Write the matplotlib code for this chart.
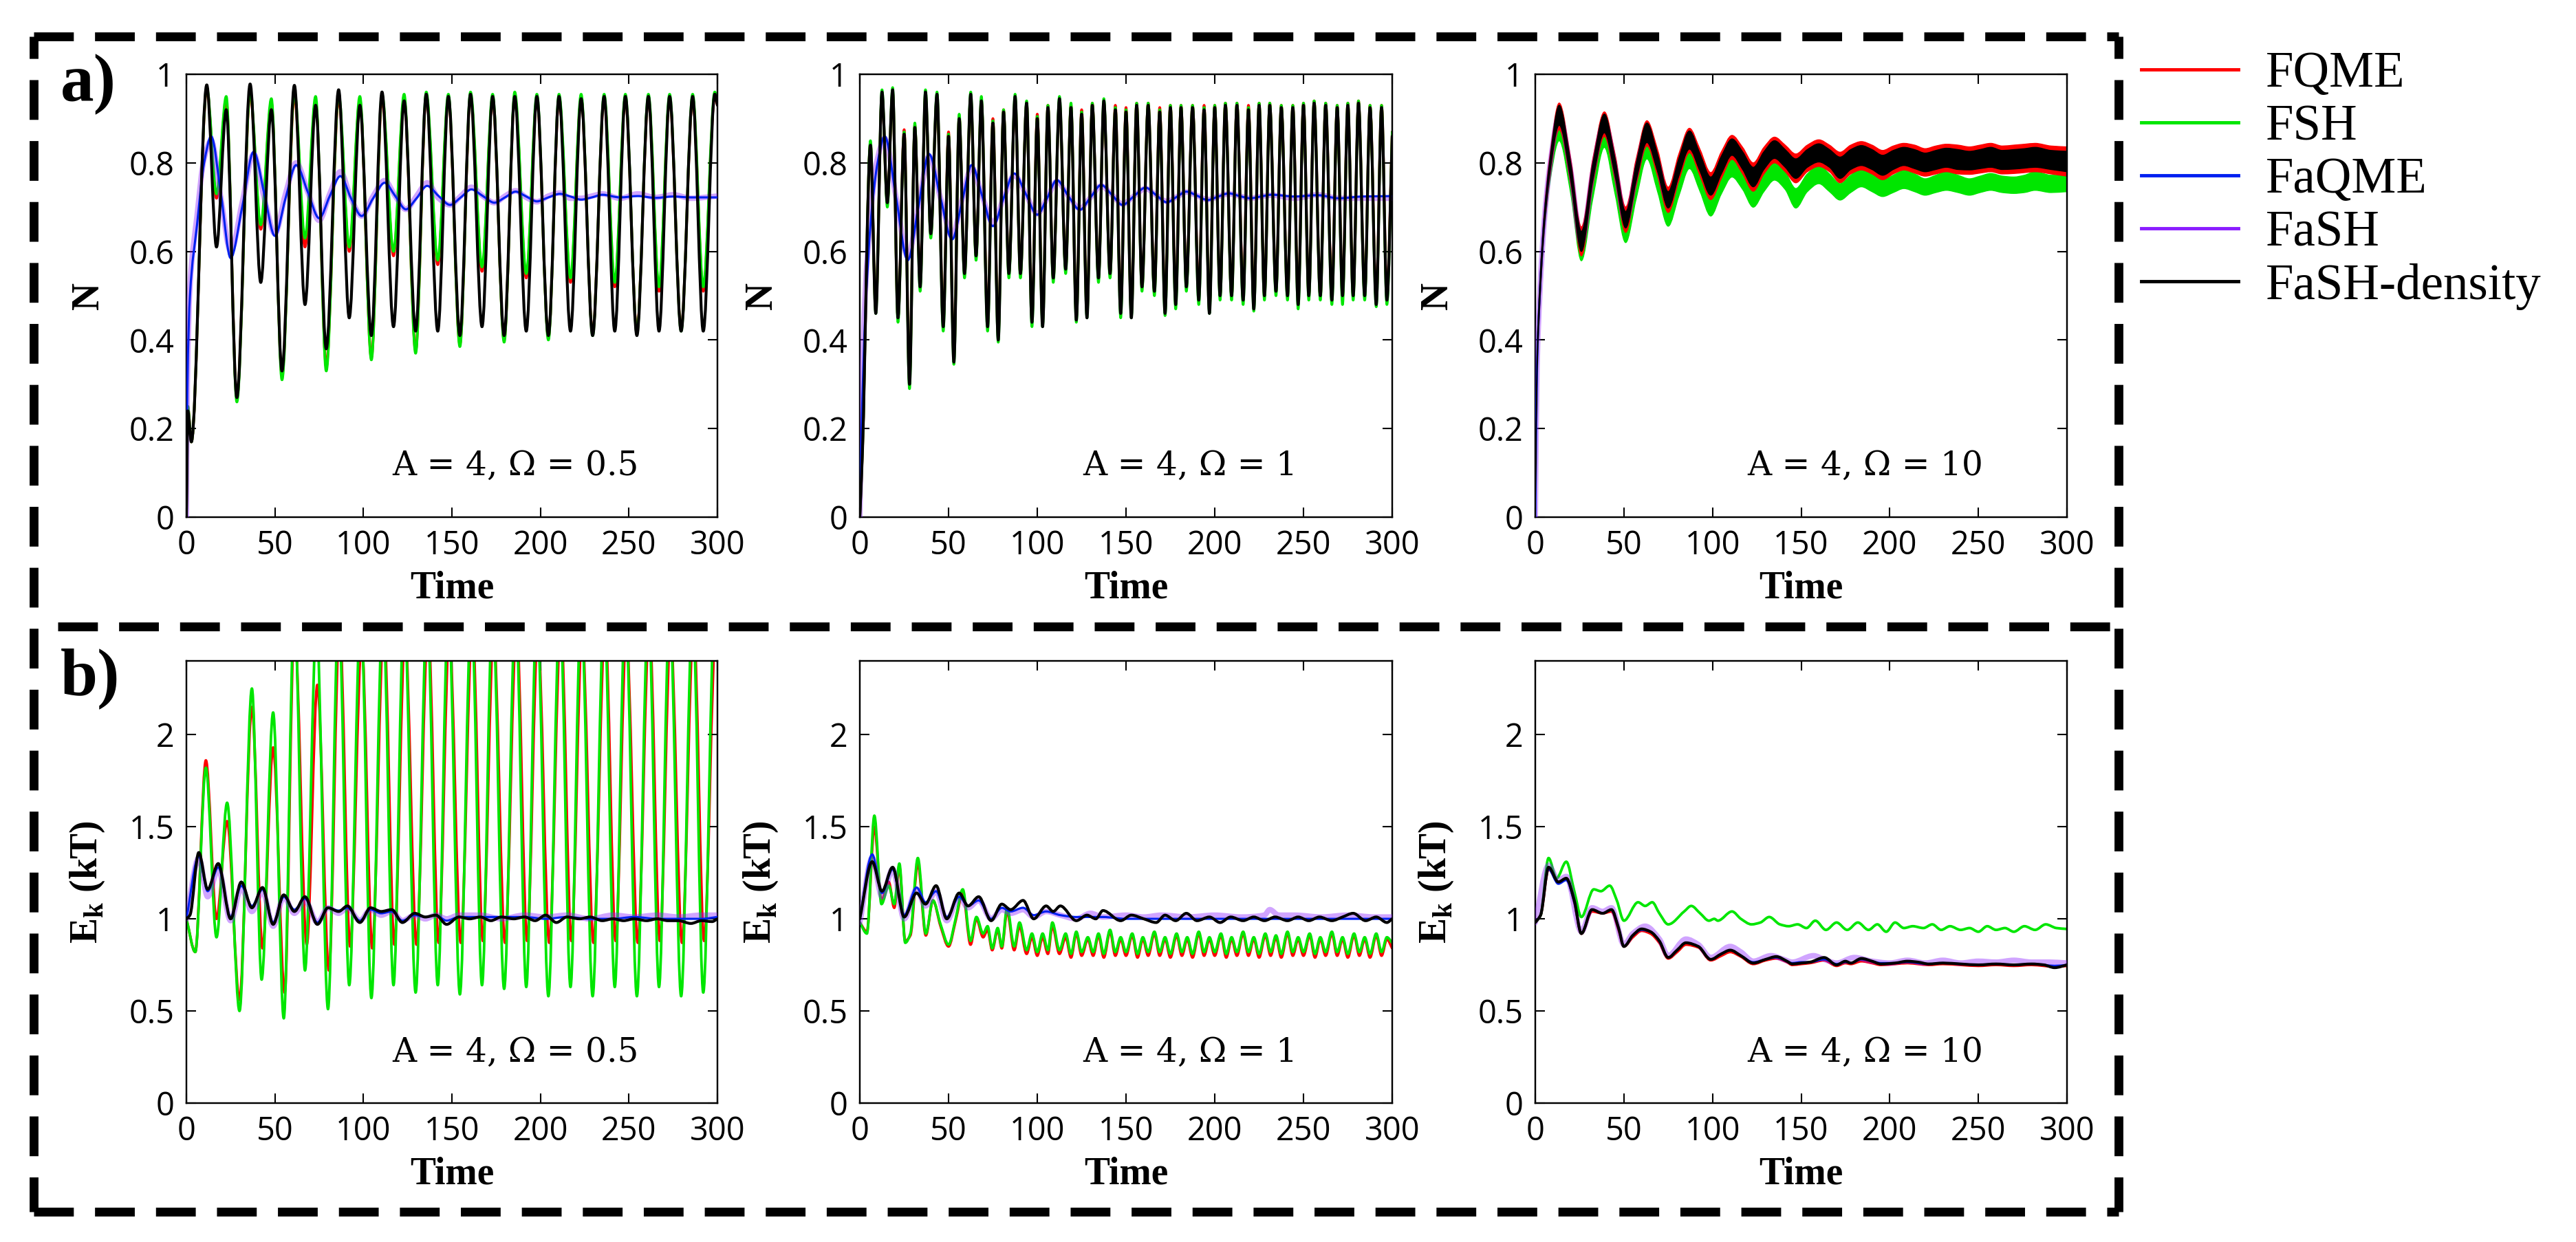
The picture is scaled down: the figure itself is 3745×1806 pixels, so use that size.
import matplotlib
matplotlib.use("Agg")
import matplotlib.pyplot as plt
from matplotlib.lines import Line2D
from matplotlib.path import Path
from matplotlib.patches import PathPatch
from matplotlib.ticker import FormatStrFormatter

plt.rcParams["font.family"] = ["Open Sans", "DejaVu Sans"]
plt.rcParams["mathtext.fontset"] = "custom"
plt.rcParams["mathtext.rm"] = "Liberation Serif:bold"
plt.rcParams["mathtext.bf"] = "Liberation Serif:bold"

# ---------------- data ----------------
# a) population N, A = 4, Omega = 0.5
a1_t_fast = [0, 0.8, 2.8, 11.5, 17, 22.5, 28.5, 36, 42, 48, 54, 61, 67, 73, 79, 86, 92, 98, 104.5,
             110.5, 117, 123, 129.5, 135.5, 142, 148, 154.5, 160.5, 167, 173, 179.5, 185.5, 192, 198,
             204.5, 210.5, 217, 223, 229.5, 236, 242, 248, 254.5, 261, 267, 273, 279.5, 286, 292,
             298.5, 300]
a1_fash_density = [0.0, 0.24, 0.17, 0.976, 0.61, 0.92, 0.27, 0.978, 0.53, 0.92, 0.33, 0.975, 0.48,
                   0.93, 0.38, 0.965, 0.45, 0.93, 0.41, 0.96, 0.43, 0.94, 0.42, 0.955, 0.42, 0.95,
                   0.41, 0.955, 0.43, 0.95, 0.41, 0.95, 0.42, 0.95, 0.41, 0.95, 0.42, 0.945, 0.41,
                   0.95, 0.42, 0.95, 0.41, 0.95, 0.42, 0.95, 0.42, 0.95, 0.42, 0.955, 0.93]
a1_fsh = [0.0, 0.25, 0.17, 0.97, 0.73, 0.95, 0.26, 0.96, 0.66, 0.945, 0.31, 0.96, 0.63, 0.95, 0.33,
          0.955, 0.61, 0.95, 0.355, 0.955, 0.60, 0.955, 0.37, 0.96, 0.58, 0.955, 0.385, 0.96, 0.565,
          0.955, 0.395, 0.96, 0.55, 0.955, 0.40, 0.955, 0.54, 0.955, 0.41, 0.955, 0.53, 0.955, 0.415,
          0.955, 0.52, 0.955, 0.42, 0.955, 0.52, 0.96, 0.94]
a1_fqme = [0.0, 0.25, 0.17, 0.965, 0.72, 0.94, 0.27, 0.955, 0.65, 0.935, 0.32, 0.95, 0.61, 0.94, 0.34,
           0.945, 0.60, 0.94, 0.36, 0.945, 0.59, 0.945, 0.375, 0.95, 0.57, 0.945, 0.39, 0.95, 0.555,
           0.945, 0.40, 0.95, 0.54, 0.945, 0.405, 0.945, 0.53, 0.945, 0.415, 0.945, 0.52, 0.945, 0.42,
           0.945, 0.51, 0.945, 0.425, 0.945, 0.51, 0.95, 0.93]
a1_t_slow = [0, 0.5, 2, 6, 10, 14, 19.5, 25, 31.5, 38, 44, 50, 56, 62, 68.5, 75, 81, 87, 93, 99, 105.5,
             112, 118, 124, 130, 136, 142.5, 149, 155, 161, 167.5, 174, 180, 186, 192, 198, 204.5, 211,
             217, 223, 229, 235, 245, 255, 265, 275, 285, 300]
a1_faqme = [0.0, 0.28, 0.5, 0.66, 0.8, 0.86, 0.73, 0.585, 0.7, 0.825, 0.73, 0.635, 0.72, 0.795, 0.735,
            0.675, 0.725, 0.77, 0.72, 0.68, 0.72, 0.755, 0.725, 0.695, 0.72, 0.748, 0.725, 0.705, 0.722,
            0.74, 0.725, 0.71, 0.722, 0.735, 0.724, 0.713, 0.722, 0.73, 0.724, 0.717, 0.722, 0.728,
            0.722, 0.725, 0.721, 0.724, 0.722, 0.722]
a1_fash = [0.0, 0.3, 0.52, 0.68, 0.81, 0.85, 0.72, 0.6, 0.71, 0.82, 0.72, 0.64, 0.73, 0.80, 0.735, 0.67,
           0.73, 0.78, 0.72, 0.68, 0.725, 0.76, 0.725, 0.695, 0.725, 0.755, 0.72, 0.705, 0.725, 0.745,
           0.725, 0.71, 0.725, 0.737, 0.722, 0.712, 0.725, 0.732, 0.72, 0.72, 0.725, 0.73, 0.72, 0.73,
           0.722, 0.728, 0.72, 0.725]

# a) population N, A = 4, Omega = 1
a2_t_fast = [0, 1.5, 6, 9, 12.5, 15.5, 18.5, 21.5, 25, 28,
             31, 34, 37, 40, 43.5, 47, 50, 53, 56, 59,
             62.5, 65.5, 68.5, 72, 75, 78, 81, 84, 87.5, 90.5,
             94, 97, 100, 103, 106, 109, 112.5, 116, 119, 122,
             125, 128, 131, 134.5, 137.5, 141, 144, 147, 150, 153,
             156, 159, 162.5, 166, 169, 172, 175, 178, 181, 184,
             187.5, 191, 194, 197, 200, 203, 206, 209.5, 212.5, 216,
             219, 222, 225, 228, 231, 234.5, 237.5, 241, 244, 247,
             250, 253, 256, 259.5, 262.5, 266, 269, 272, 275, 278,
             281, 284.5, 287.5, 291, 294, 297, 300]
a2_fash_density = [0.0, 0.15, 0.84, 0.46, 0.96, 0.71, 0.965, 0.45, 0.865, 0.30,
                   0.88, 0.52, 0.96, 0.64, 0.955, 0.43, 0.86, 0.35, 0.90, 0.55,
                   0.955, 0.59, 0.94, 0.43, 0.89, 0.40, 0.915, 0.55, 0.95, 0.55,
                   0.935, 0.44, 0.90, 0.43, 0.925, 0.54, 0.945, 0.56, 0.925, 0.445,
                   0.91, 0.45, 0.93, 0.54, 0.94, 0.55, 0.92, 0.46, 0.915, 0.45,
                   0.93, 0.52, 0.93, 0.51, 0.915, 0.46, 0.925, 0.48, 0.925, 0.52,
                   0.925, 0.49, 0.92, 0.46, 0.925, 0.50, 0.93, 0.50, 0.93, 0.49,
                   0.92, 0.47, 0.93, 0.50, 0.93, 0.51, 0.925, 0.50, 0.925, 0.48,
                   0.93, 0.50, 0.935, 0.50, 0.93, 0.49, 0.925, 0.50, 0.93, 0.50,
                   0.935, 0.50, 0.925, 0.48, 0.925, 0.49, 0.86]
a2_fsh = [0.0, 0.15, 0.85, 0.46, 0.965, 0.70, 0.97, 0.44, 0.87, 0.29,
          0.89, 0.51, 0.965, 0.63, 0.96, 0.42, 0.865, 0.345, 0.91, 0.54,
          0.96, 0.58, 0.95, 0.42, 0.895, 0.395, 0.92, 0.54, 0.955, 0.54,
          0.94, 0.43, 0.905, 0.43, 0.93, 0.53, 0.95, 0.55, 0.935, 0.44,
          0.915, 0.45, 0.935, 0.53, 0.945, 0.54, 0.925, 0.45, 0.92, 0.45,
          0.935, 0.51, 0.935, 0.50, 0.92, 0.455, 0.93, 0.47, 0.93, 0.51,
          0.93, 0.48, 0.925, 0.46, 0.93, 0.49, 0.935, 0.49, 0.935, 0.48,
          0.925, 0.465, 0.935, 0.49, 0.935, 0.50, 0.93, 0.49, 0.93, 0.47,
          0.935, 0.49, 0.94, 0.49, 0.935, 0.48, 0.93, 0.48, 0.935, 0.49,
          0.94, 0.49, 0.93, 0.475, 0.93, 0.48, 0.87]
a2_fqme = [0.0, 0.15, 0.845, 0.47, 0.955, 0.71, 0.96, 0.45, 0.875, 0.31,
           0.885, 0.53, 0.955, 0.64, 0.95, 0.44, 0.87, 0.36, 0.905, 0.55,
           0.95, 0.59, 0.94, 0.44, 0.90, 0.41, 0.92, 0.55, 0.945, 0.55,
           0.935, 0.45, 0.91, 0.44, 0.93, 0.54, 0.94, 0.56, 0.93, 0.45,
           0.92, 0.46, 0.935, 0.54, 0.935, 0.55, 0.93, 0.47, 0.925, 0.46,
           0.935, 0.52, 0.935, 0.51, 0.925, 0.47, 0.93, 0.49, 0.93, 0.52,
           0.93, 0.50, 0.93, 0.47, 0.93, 0.50, 0.935, 0.50, 0.935, 0.50,
           0.93, 0.48, 0.935, 0.50, 0.935, 0.51, 0.93, 0.50, 0.93, 0.49,
           0.935, 0.50, 0.94, 0.50, 0.935, 0.50, 0.93, 0.50, 0.935, 0.50,
           0.94, 0.50, 0.93, 0.49, 0.93, 0.50, 0.87]
a2_t_slow = [0, 1, 3, 6, 10, 14, 20.5, 27, 33, 39, 45.5, 52, 57.5, 63, 69, 75, 81, 87, 93.5, 100, 105.5,
             111, 117.5, 124, 130, 136, 142, 148, 154.5, 161, 167, 173, 178.5, 184, 190, 196, 202, 208,
             214, 220, 226, 232, 245, 258, 270, 283, 300]
a2_faqme = [0.0, 0.2, 0.45, 0.66, 0.8, 0.86, 0.72, 0.58, 0.7, 0.82, 0.72, 0.627, 0.71, 0.795, 0.725,
            0.657, 0.72, 0.776, 0.73, 0.683, 0.72, 0.761, 0.725, 0.694, 0.722, 0.75, 0.728, 0.705, 0.725,
            0.744, 0.727, 0.711, 0.723, 0.735, 0.726, 0.716, 0.724, 0.731, 0.725, 0.72, 0.724, 0.728,
            0.724, 0.727, 0.72, 0.724, 0.725]
a2_fash = [0.0, 0.25, 0.5, 0.68, 0.81, 0.855, 0.72, 0.59, 0.7, 0.815, 0.72, 0.635, 0.715, 0.79, 0.725,
           0.665, 0.72, 0.772, 0.73, 0.685, 0.72, 0.758, 0.725, 0.697, 0.722, 0.748, 0.728, 0.707, 0.725,
           0.742, 0.727, 0.713, 0.723, 0.734, 0.726, 0.717, 0.724, 0.73, 0.725, 0.72, 0.724, 0.727,
           0.72, 0.728, 0.72, 0.72, 0.72]

# a) population N, A = 4, Omega = 10 (fast driving -> thick bands: upper / lower edges)
a3_t = [0, 1, 2.5, 5, 8, 13.5, 20, 26, 32.5, 39, 45, 51, 57, 63, 69, 75, 81, 87, 93, 99, 105, 111, 117,
        123, 129, 135, 141, 147, 153.5, 160, 166, 172, 178, 184, 190, 196, 202, 208, 214, 220, 226, 232,
        238.5, 245, 251, 257, 263.5, 270, 276, 282, 291, 300]
a3_fash_density_hi = [0.0, 0.36, 0.52, 0.68, 0.80, 0.93, 0.80, 0.645, 0.80, 0.91, 0.81, 0.69, 0.80, 0.89,
                      0.82, 0.735, 0.81, 0.872, 0.82, 0.768, 0.815, 0.854, 0.825, 0.79, 0.825, 0.85, 0.83,
                      0.809, 0.83, 0.843, 0.83, 0.813, 0.83, 0.839, 0.83, 0.817, 0.828, 0.835, 0.83, 0.822,
                      0.828, 0.833, 0.83, 0.826, 0.83, 0.835, 0.828, 0.83, 0.832, 0.835, 0.828, 0.826]
a3_fash_density_lo = [0.0, 0.32, 0.48, 0.65, 0.77, 0.885, 0.76, 0.60, 0.76, 0.868, 0.77, 0.653, 0.76,
                      0.846, 0.78, 0.698, 0.77, 0.831, 0.78, 0.727, 0.775, 0.817, 0.785, 0.746, 0.785,
                      0.81, 0.79, 0.765, 0.79, 0.802, 0.79, 0.765, 0.785, 0.794, 0.785, 0.772, 0.785,
                      0.794, 0.787, 0.78, 0.785, 0.79, 0.785, 0.784, 0.787, 0.79, 0.785, 0.786, 0.788,
                      0.79, 0.785, 0.78]
a3_fqme_hi = [0.0, 0.37, 0.53, 0.69, 0.81, 0.935, 0.81, 0.655, 0.81, 0.915, 0.82, 0.70, 0.81, 0.895, 0.83,
              0.745, 0.82, 0.878, 0.83, 0.778, 0.825, 0.862, 0.835, 0.80, 0.835, 0.858, 0.84, 0.82, 0.84,
              0.852, 0.84, 0.824, 0.84, 0.848, 0.84, 0.828, 0.838, 0.844, 0.84, 0.832, 0.838, 0.842, 0.84,
              0.836, 0.84, 0.844, 0.838, 0.84, 0.842, 0.844, 0.838, 0.836]
a3_fqme_lo = [0.0, 0.31, 0.47, 0.64, 0.76, 0.875, 0.75, 0.59, 0.75, 0.86, 0.76, 0.643, 0.75, 0.838, 0.77,
              0.688, 0.76, 0.823, 0.77, 0.717, 0.765, 0.808, 0.775, 0.736, 0.775, 0.80, 0.78, 0.755, 0.78,
              0.792, 0.78, 0.755, 0.775, 0.784, 0.775, 0.762, 0.775, 0.784, 0.777, 0.77, 0.775, 0.78,
              0.775, 0.774, 0.777, 0.78, 0.775, 0.776, 0.778, 0.78, 0.775, 0.77]
a3_fsh_hi = [0.0, 0.36, 0.52, 0.68, 0.78, 0.89, 0.77, 0.60, 0.76, 0.869, 0.77, 0.661, 0.76, 0.846, 0.77,
             0.698, 0.765, 0.828, 0.775, 0.72, 0.77, 0.813, 0.78, 0.742, 0.775, 0.805, 0.78, 0.742, 0.775,
             0.794, 0.775, 0.753, 0.772, 0.787, 0.775, 0.761, 0.772, 0.783, 0.775, 0.764, 0.772, 0.78,
             0.772, 0.764, 0.77, 0.776, 0.77, 0.768, 0.772, 0.78, 0.772, 0.772]
a3_fsh_lo = [0.0, 0.32, 0.48, 0.64, 0.75, 0.85, 0.73, 0.579, 0.72, 0.835, 0.73, 0.62, 0.72, 0.809, 0.735,
             0.657, 0.725, 0.787, 0.735, 0.68, 0.73, 0.768, 0.74, 0.70, 0.735, 0.761, 0.74, 0.698, 0.735,
             0.753, 0.735, 0.716, 0.733, 0.746, 0.735, 0.724, 0.733, 0.742, 0.735, 0.727, 0.733, 0.738,
             0.733, 0.727, 0.733, 0.738, 0.733, 0.731, 0.733, 0.738, 0.733, 0.735]
a3_faqme = [0.0, 0.34, 0.5, 0.665, 0.785, 0.905, 0.78, 0.62, 0.78, 0.89, 0.79, 0.67, 0.78, 0.868, 0.8,
            0.715, 0.79, 0.85, 0.8, 0.748, 0.795, 0.835, 0.805, 0.768, 0.805, 0.83, 0.81, 0.787, 0.81,
            0.822, 0.81, 0.789, 0.808, 0.816, 0.808, 0.795, 0.806, 0.814, 0.808, 0.801, 0.806, 0.811,
            0.808, 0.805, 0.808, 0.812, 0.806, 0.808, 0.81, 0.812, 0.806, 0.803]

# b) kinetic energy E_k (kT), A = 4, Omega = 0.5
b1_t_fsh = [0, 5, 11, 17, 23, 30, 37, 42.5, 49, 55, 61, 67, 73.5, 80, 86, 92, 98.5, 104.5, 111, 117,
            123, 129.5, 136, 142, 148, 154.5, 161, 167, 173, 179.5, 186, 192, 198, 204.5, 211, 217, 223,
            229.5, 236, 242, 248, 254.5, 261, 267, 273, 279.5, 286, 292, 298.5, 300]
b1_fsh = [1.0, 0.82, 1.82, 0.9, 1.63, 0.5, 2.25, 0.67, 2.12, 0.46, 2.7, 0.72, 2.6, 0.51, 2.7, 0.64, 2.7,
          0.57, 2.7, 0.64, 2.7, 0.6, 2.7, 0.64, 2.7, 0.59, 2.7, 0.64, 2.7, 0.62, 2.7, 0.63, 2.7, 0.58,
          2.7, 0.63, 2.7, 0.58, 2.7, 0.63, 2.7, 0.58, 2.7, 0.63, 2.7, 0.58, 2.7, 0.6, 2.7, 2.4]
b1_t_fqme = [0, 5, 11, 17, 23, 30, 37, 43, 49, 55.5, 61, 68, 74, 80.5, 86.5, 92.5, 99, 105, 111.5, 117.5,
             123.5, 130, 136.5, 142.5, 148.5, 155, 161.5, 167.5, 173.5, 180, 186.5, 192.5, 198.5, 205,
             211.5, 217.5, 223.5, 230, 236.5, 242.5, 248.5, 255, 261.5, 267.5, 273.5, 280, 286.5, 292.5,
             299, 300]
b1_fqme = [1.0, 0.82, 1.86, 1.0, 1.53, 0.56, 2.15, 0.84, 1.93, 0.6, 2.6, 0.86, 2.27, 0.72, 2.6, 0.85, 2.5,
           0.84, 2.6, 0.86, 2.55, 0.86, 2.6, 0.87, 2.55, 0.87, 2.6, 0.88, 2.55, 0.87, 2.6, 0.88, 2.55,
           0.87, 2.6, 0.88, 2.55, 0.87, 2.6, 0.88, 2.55, 0.87, 2.6, 0.88, 2.55, 0.87, 2.6, 0.88, 2.55, 2.4]
b1_t_density = [0, 2, 7, 12, 18, 25, 31, 37, 43, 49, 55, 61, 67, 74, 80, 86, 91, 98, 104, 110, 116, 122,
                129, 135, 141, 147, 154, 160, 166, 172, 178, 185, 191, 197, 203, 209, 215, 222, 228, 235,
                241, 247, 253, 260, 266, 272, 278, 285, 291, 297, 300]
b1_fash_density = [1.0, 1.02, 1.36, 1.16, 1.30, 1.0, 1.2, 1.06, 1.17, 0.97, 1.13, 1.04, 1.12, 0.97, 1.06,
                   1.04, 1.07, 0.98, 1.06, 1.04, 1.05, 0.98, 1.03, 1.01, 1.02, 0.97, 1.01, 1.0, 1.01,
                   0.99, 1.01, 1.0, 1.01, 0.99, 1.02, 0.98, 1.01, 1.0, 1.01, 0.99, 1.0, 0.99, 1.0, 0.99,
                   1.0, 0.99, 0.99, 0.975, 0.99, 0.985, 1.0]
b1_t_mean = [0, 7, 12, 18, 25, 31, 37, 43, 49, 55, 61, 67, 74, 80, 86, 91, 98, 104, 110, 116, 122, 129,
             135, 141, 147, 154, 166, 178, 191, 203, 215, 228, 241, 253, 266, 278, 291, 300]
b1_faqme = [1.0, 1.34, 1.15, 1.28, 1.01, 1.18, 1.07, 1.16, 0.98, 1.12, 1.05, 1.11, 0.98, 1.06, 1.045,
            1.06, 0.99, 1.05, 1.03, 1.04, 0.99, 1.02, 1.01, 1.02, 0.99, 1.01, 1.01, 1.01, 1.01, 1.0, 1.01,
            1.0, 1.0, 1.01, 1.0, 1.0, 1.0, 1.01]
b1_fash = [1.0, 1.33, 1.12, 1.27, 0.99, 1.17, 1.04, 1.15, 0.96, 1.12, 1.03, 1.1, 0.98, 1.06, 1.03, 1.06,
           0.99, 1.05, 1.02, 1.04, 0.99, 1.02, 1.0, 1.02, 1.0, 1.02, 1.02, 1.0, 1.02, 1.01, 1.02, 1.0,
           1.02, 1.01, 1.02, 1.01, 1.02, 1.02]

# b) kinetic energy E_k (kT), A = 4, Omega = 1
b2_t_fast = [0, 4, 8.2, 12.2, 16.3, 19.4, 22.3, 25.6, 28.5, 32.7, 37.2, 41.2, 45.5, 50, 54, 58, 62.4,
             65.7, 69.5, 72, 74.6, 77.7, 80, 83, 87, 90, 94, 97, 100, 103, 106, 108.5, 112.5, 116, 119,
             122, 125, 128.5, 131.5, 134.5, 137.5, 141, 144, 147, 150, 153.5, 156.5, 159.5, 162.5, 166,
             169, 172, 175, 178.5, 181.5, 184.5, 187.5, 191, 194, 197, 200, 203.5, 206.5, 209.5, 212.5,
             216, 219, 222, 225, 228.5, 231.5, 234.5, 237.5, 241, 244, 247, 250, 253.5, 256.5, 259.5,
             262.5, 266, 269, 272, 275, 278.5, 281.5, 284.5, 287.5, 291, 294, 297, 300]
b2_fsh = [0.98, 0.92, 1.56, 1.08, 1.18, 1.08, 1.30, 0.87, 0.92, 1.33, 0.92, 1.10, 0.97, 0.86, 1.0, 1.16,
          0.88, 1.01, 0.92, 0.96, 0.84, 0.95, 0.85, 1.06, 0.85, 0.98, 0.83, 0.92, 0.82, 0.92, 0.83, 0.98,
          0.83, 0.92, 0.81,
          0.93, 0.82, 0.90, 0.82, 0.92, 0.81, 0.94, 0.82, 0.90, 0.82, 0.92, 0.81, 0.90, 0.82, 0.93, 0.82,
          0.90, 0.81, 0.92, 0.82, 0.90, 0.81, 0.93, 0.82, 0.90, 0.82, 0.92, 0.81, 0.90, 0.82, 0.93, 0.82,
          0.90, 0.81, 0.92, 0.82, 0.91, 0.81, 0.93, 0.82, 0.90, 0.82, 0.92, 0.81, 0.90, 0.82, 0.93, 0.82,
          0.90, 0.81, 0.92, 0.82, 0.90, 0.81, 0.92, 0.82, 0.90, 0.87]
b2_fqme = [0.98, 0.93, 1.5, 1.1, 1.2, 1.06, 1.28, 0.88, 0.91, 1.3, 0.91, 1.1, 0.96, 0.85, 0.99, 1.14,
           0.86, 1.0, 0.9, 0.94, 0.83, 0.94, 0.84, 1.04, 0.83, 0.96, 0.81, 0.9, 0.8, 0.9, 0.81, 0.96,
           0.81, 0.9, 0.79,
           0.92, 0.80, 0.89, 0.80, 0.91, 0.79, 0.93, 0.80, 0.89, 0.80, 0.91, 0.79, 0.89, 0.80, 0.92, 0.80,
           0.89, 0.79, 0.91, 0.80, 0.89, 0.79, 0.92, 0.80, 0.89, 0.80, 0.91, 0.79, 0.89, 0.80, 0.92, 0.80,
           0.89, 0.79, 0.91, 0.80, 0.90, 0.79, 0.92, 0.80, 0.89, 0.80, 0.91, 0.79, 0.89, 0.80, 0.92, 0.80,
           0.89, 0.79, 0.91, 0.80, 0.89, 0.79, 0.91, 0.80, 0.89, 0.84]
b2_t_density = [0, 7, 12.5, 18.5, 25, 32, 37, 43, 49, 56, 61, 67, 74, 80, 85, 92, 98, 105, 109, 113, 122,
                128, 133, 137, 147, 153, 160, 167, 172, 178, 184, 190, 197, 203, 209, 216, 222, 228, 234,
                241, 247, 253, 259, 266, 272, 278, 285, 291, 297, 300]
b2_fash_density = [1.0, 1.31, 1.15, 1.28, 1.01, 1.14, 1.08, 1.18, 1.0, 1.14, 1.07, 1.12, 0.99, 1.08,
                   1.05, 1.1, 1.0, 1.07, 1.04, 1.07, 0.99, 1.02, 1.0, 1.045, 0.99, 1.02, 1.0, 0.98, 1.02,
                   0.99, 1.03, 0.99, 1.01, 0.98, 1.01, 0.99, 1.01, 0.99, 1.01, 0.99, 1.01, 0.99, 1.01,
                   0.99, 1.01, 1.03, 0.99, 1.01, 0.98, 1.0]
b2_t_faqme = [0, 7, 12.5, 18.5, 25, 32, 37, 43, 49, 56, 61, 67, 74, 80, 85, 92, 98, 105, 113, 122, 137,
              150, 170, 200, 230, 260, 300]
b2_faqme = [1.0, 1.35, 1.14, 1.27, 1.02, 1.17, 1.09, 1.15, 1.01, 1.12, 1.07, 1.1, 1.0, 1.06, 1.04, 1.06,
            1.02, 1.04, 1.02, 1.01, 1.01, 1.0, 1.0, 1.0, 1.0, 1.0, 1.0]
b2_t_fash = [0, 7, 12.5, 18.5, 25, 32, 37, 43, 49, 56, 61, 67, 74, 80, 85, 92, 98, 105, 113, 122, 130,
             137, 150, 160, 170, 185, 200, 215, 228, 231, 236, 245, 260, 275, 290, 300]
b2_fash = [0.98, 1.33, 1.12, 1.27, 1.0, 1.16, 1.07, 1.15, 0.99, 1.12, 1.06, 1.1, 1.0, 1.05, 1.03, 1.05,
           1.01, 1.04, 1.02, 1.0, 1.03, 1.01, 1.02, 1.01, 1.02, 1.01, 1.02, 1.01, 1.02, 1.05, 1.02, 1.02,
           1.01, 1.02, 1.01, 1.01]

# b) kinetic energy E_k (kT), A = 4, Omega = 10
b3_t_fsh = [0, 3, 7.5, 12, 17.5, 22, 26, 33, 37, 42, 46, 50, 58, 62, 66, 70, 75, 84, 88, 93, 98, 101,
            103, 111, 116, 122, 127, 132, 138, 143, 148, 153, 158, 164, 170, 176, 182, 188, 193, 198,
            203, 208, 213, 219, 224, 229, 234, 240, 245, 250, 255, 260, 265, 270, 276, 282, 288, 294, 300]
b3_fsh = [0.98, 1.02, 1.33, 1.22, 1.31, 1.15, 1.01, 1.16, 1.15, 1.18, 1.1, 0.99, 1.09, 1.07, 1.09, 1.03,
          0.97, 1.04, 1.07, 1.03, 0.99, 1.0, 0.99, 1.04, 1.0, 0.97, 0.98, 1.01, 0.97, 0.96, 0.97, 0.95,
          0.99, 0.94, 0.98, 0.94, 0.98, 0.94, 0.97, 0.93, 0.98, 0.95, 0.96, 0.95, 0.97, 0.94, 0.96, 0.94,
          0.95, 0.93, 0.96, 0.94, 0.95, 0.93, 0.96, 0.94, 0.97, 0.95, 0.945]
b3_t = [0, 3, 7.5, 13, 17.5, 22, 26, 32, 38, 43, 47, 50, 55, 60, 65, 70, 75, 80, 85, 92, 99, 105, 110,
        116, 123, 130, 136, 142, 145, 150, 155, 163, 170, 175, 178, 184, 190, 195, 203, 210, 216, 222,
        230, 240, 250, 260, 270, 280, 287, 293, 300]
b3_fash_density = [0.98, 1.02, 1.28, 1.2, 1.22, 1.1, 0.92, 1.05, 1.03, 1.05, 0.95, 0.85, 0.91, 0.945,
                   0.93, 0.88, 0.79, 0.83, 0.87, 0.85, 0.78, 0.81, 0.83, 0.8, 0.76, 0.78, 0.795, 0.77,
                   0.755, 0.76, 0.765, 0.79, 0.75, 0.77, 0.76, 0.785, 0.77, 0.755, 0.76, 0.77, 0.765,
                   0.755, 0.76, 0.755, 0.75, 0.755, 0.75, 0.755, 0.75, 0.735, 0.75]
b3_fqme = [0.98, 1.02, 1.27, 1.2, 1.22, 1.09, 0.92, 1.04, 1.03, 1.04, 0.94, 0.85, 0.9, 0.935, 0.92, 0.87,
           0.785, 0.82, 0.86, 0.845, 0.775, 0.8, 0.82, 0.795, 0.755, 0.775, 0.785, 0.765, 0.75, 0.755,
           0.76, 0.775, 0.745, 0.76, 0.755, 0.77, 0.76, 0.75, 0.755, 0.76, 0.755, 0.75, 0.755, 0.75,
           0.745, 0.75, 0.745, 0.75, 0.745, 0.74, 0.745]
b3_faqme = [0.98, 1.02, 1.27, 1.19, 1.21, 1.09, 0.92, 1.05, 1.03, 1.05, 0.95, 0.85, 0.91, 0.94, 0.93,
            0.88, 0.79, 0.83, 0.87, 0.85, 0.78, 0.81, 0.83, 0.8, 0.765, 0.78, 0.79, 0.77, 0.76, 0.765,
            0.765, 0.78, 0.755, 0.765, 0.76, 0.78, 0.77, 0.76, 0.76, 0.765, 0.76, 0.755, 0.76, 0.755,
            0.75, 0.755, 0.75, 0.755, 0.75, 0.745, 0.75]
b3_t_fash = [0, 7.5, 13, 17.5, 26, 32, 38, 43, 50, 55, 62, 70, 75, 85, 92, 99, 110, 116, 123, 133, 140,
             145, 157, 163, 170, 180, 190, 200, 210, 220, 230, 240, 250, 260, 270, 280, 290, 300]
b3_fash = [0.98, 1.29, 1.21, 1.23, 0.93, 1.06, 1.04, 1.06, 0.86, 0.92, 0.96, 0.89, 0.8, 0.89, 0.86, 0.79,
           0.85, 0.82, 0.77, 0.8, 0.78, 0.765, 0.8, 0.78, 0.76, 0.79, 0.77, 0.76, 0.775, 0.76, 0.775,
           0.76, 0.77, 0.765, 0.775, 0.765, 0.765, 0.76]

panel_labels = ["A = 4, Ω = 0.5", "A = 4, Ω = 1", "A = 4, Ω = 10"]
series_names = ["FQME", "FSH", "FaQME", "FaSH", "FaSH-density"]

# ---------------- styling ----------------
RED, GREEN, BLUE, PURPLE, BLACK = "#ff0000", "#00e600", "#0020f0", "#8a1cff", "#000000"
SERIF = "Liberation Serif"
W, H = 3745, 1806
DPI = 250
LW = 1.1

fig = plt.figure(figsize=(W / DPI, H / DPI), dpi=DPI)


def px_axes(x0, x1, y0, y1):
    # axes from a pixel box (y measured from the top)
    return fig.add_axes([x0 / W, 1 - y1 / H, (x1 - x0) / W, (y1 - y0) / H])


cols = [(271, 1043), (1250, 2024), (2232, 3005)]
rows = [(108, 752), (961, 1604)]
axes_top = [px_axes(c[0], c[1], rows[0][0], rows[0][1]) for c in cols]
axes_bot = [px_axes(c[0], c[1], rows[1][0], rows[1][1]) for c in cols]


def bezier(x, y):
    """Monotone cubic Bezier through the read points (flat at the extrema)."""
    n = len(x)
    d = [(y[i + 1] - y[i]) / (x[i + 1] - x[i]) for i in range(n - 1)]
    m = [d[0]] + [0.0] * (n - 2) + [d[-1]]
    for i in range(1, n - 1):
        if d[i - 1] * d[i] > 0:
            h0, h1 = x[i] - x[i - 1], x[i + 1] - x[i]
            w1, w2 = 2 * h1 + h0, h1 + 2 * h0
            m[i] = (w1 + w2) / (w1 / d[i - 1] + w2 / d[i])
    verts, codes = [(x[0], y[0])], [Path.MOVETO]
    for i in range(n - 1):
        h = x[i + 1] - x[i]
        verts += [(x[i] + h / 3, y[i] + m[i] * h / 3),
                  (x[i + 1] - h / 3, y[i + 1] - m[i + 1] * h / 3),
                  (x[i + 1], y[i + 1])]
        codes += [Path.CURVE4] * 3
    return verts, codes


def curve(ax, x, y, color, lw=LW, alpha=1.0, z=2):
    v, c = bezier(x, y)
    ax.add_patch(PathPatch(Path(v, c), fill=False, edgecolor=color, lw=lw, alpha=alpha,
                           zorder=z, joinstyle="round", capstyle="round"))


def band(ax, x, lo, hi, color, z):
    vu, cu = bezier(x, hi)
    vl, cl = bezier(x[::-1], lo[::-1])
    cl[0] = Path.LINETO
    v = vu + vl + [vu[0]]
    c = cu + cl + [Path.CLOSEPOLY]
    ax.add_patch(PathPatch(Path(v, c), facecolor=color, edgecolor=color, lw=0.4, zorder=z))


def style(ax, top_row, label):
    ax.set_xlim(0, 300)
    ax.set_xticks([0, 50, 100, 150, 200, 250, 300])
    if top_row:
        ax.set_ylim(0, 1)
        ax.set_yticks([0, 0.2, 0.4, 0.6, 0.8, 1])
        ax.set_ylabel("N", fontfamily=SERIF, fontweight="bold", fontsize=16)
    else:
        ax.set_ylim(0, 2.4)
        ax.set_yticks([0, 0.5, 1, 1.5, 2])
        ax.set_ylabel(r"E$_{\mathbf{k}}$ (kT)", fontfamily=SERIF, fontweight="bold", fontsize=16)
    ax.xaxis.set_major_formatter(FormatStrFormatter("%g"))
    ax.yaxis.set_major_formatter(FormatStrFormatter("%g"))
    ax.tick_params(direction="in", top=True, right=True, length=4, width=0.6,
                   pad=5, labelsize=13.5)
    for sp in ax.spines.values():
        sp.set_linewidth(0.7)
    ax.set_xlabel("Time", fontfamily=SERIF, fontweight="bold", fontsize=16)
    ax.xaxis.set_label_coords(0.5, -0.12)
    ax.yaxis.set_label_coords(-0.15, 0.5)
    ax.text(0.62, 0.115, label, transform=ax.transAxes, ha="center", va="center",
            fontsize=14, fontfamily="DejaVu Serif", zorder=10)


def panel(ax, red, green, purple, blue, black):
    # each argument is a (t, values) pair
    curve(ax, *red, RED, z=1)
    curve(ax, *green, GREEN, z=2)
    curve(ax, *purple, PURPLE, lw=2.3, alpha=0.4, z=3)
    curve(ax, *blue, BLUE, lw=0.9, z=4)
    curve(ax, *black, BLACK, lw=LW + 0.1, z=5)


# a) row
panel(axes_top[0], (a1_t_fast, a1_fqme), (a1_t_fast, a1_fsh), (a1_t_slow, a1_fash),
      (a1_t_slow, a1_faqme), (a1_t_fast, a1_fash_density))
panel(axes_top[1], (a2_t_fast, a2_fqme), (a2_t_fast, a2_fsh), (a2_t_slow, a2_fash),
      (a2_t_slow, a2_faqme), (a2_t_fast, a2_fash_density))

ax = axes_top[2]
band(ax, a3_t, a3_fsh_lo, a3_fsh_hi, GREEN, 1)
band(ax, a3_t, a3_fqme_lo, a3_fqme_hi, RED, 2)
curve(ax, a3_t, a3_faqme, PURPLE, lw=2.3, alpha=0.4, z=3)
curve(ax, a3_t, a3_faqme, BLUE, lw=0.9, z=4)
band(ax, a3_t, a3_fash_density_lo, a3_fash_density_hi, BLACK, 5)

# b) row
panel(axes_bot[0], (b1_t_fqme, b1_fqme), (b1_t_fsh, b1_fsh), (b1_t_mean, b1_fash),
      (b1_t_mean, b1_faqme), (b1_t_density, b1_fash_density))
panel(axes_bot[1], (b2_t_fast, b2_fqme), (b2_t_fast, b2_fsh), (b2_t_fash, b2_fash),
      (b2_t_faqme, b2_faqme), (b2_t_density, b2_fash_density))
panel(axes_bot[2], (b3_t, b3_fqme), (b3_t_fsh, b3_fsh), (b3_t_fash, b3_fash),
      (b3_t, b3_faqme), (b3_t, b3_fash_density))

for ax, lab in zip(axes_top, panel_labels):
    style(ax, True, lab)
for ax, lab in zip(axes_bot, panel_labels):
    style(ax, False, lab)

# panel letters
fig.text(88 / W, 1 - 146 / H, "a)", fontsize=28, fontweight="bold", fontfamily=SERIF, va="baseline")
fig.text(88 / W, 1 - 1010 / H, "b)", fontsize=28, fontweight="bold", fontfamily=SERIF, va="baseline")

# dashed frame
dash = (4.5, 2.4)
box_kw = dict(transform=fig.transFigure, color="black", lw=3.7,
              solid_capstyle="butt", dash_capstyle="butt")
xl, xr, yt, ym, yb = 49 / W, 3080 / W, 1 - 53 / H, 1 - 911 / H, 1 - 1762 / H
fig.add_artist(Line2D([xl, xr], [yt, yt], linestyle=(0, dash), **box_kw))
fig.add_artist(Line2D([xl, xl], [yt, yb], linestyle=(2.0, dash), **box_kw))
fig.add_artist(Line2D([xr, xr], [yt, yb], linestyle=(2.0, dash), **box_kw))
fig.add_artist(Line2D([xl, xr], [yb, yb], linestyle=(0, dash), **box_kw))
fig.add_artist(Line2D([84 / W, xr], [ym, ym], linestyle=(0, dash), **box_kw))

# legend
handles = [Line2D([], [], color=c, lw=1.4) for c in (RED, GREEN, BLUE, PURPLE, BLACK)]
fig.legend(handles, series_names, loc="upper left", bbox_to_anchor=(3113 / W, 1 - 75 / H),
           frameon=False, prop={"family": SERIF, "size": 21}, handlelength=1.93,
           handletextpad=0.55, labelspacing=0.13, borderpad=0, borderaxespad=0)

fig.savefig("out.png", dpi=DPI)
